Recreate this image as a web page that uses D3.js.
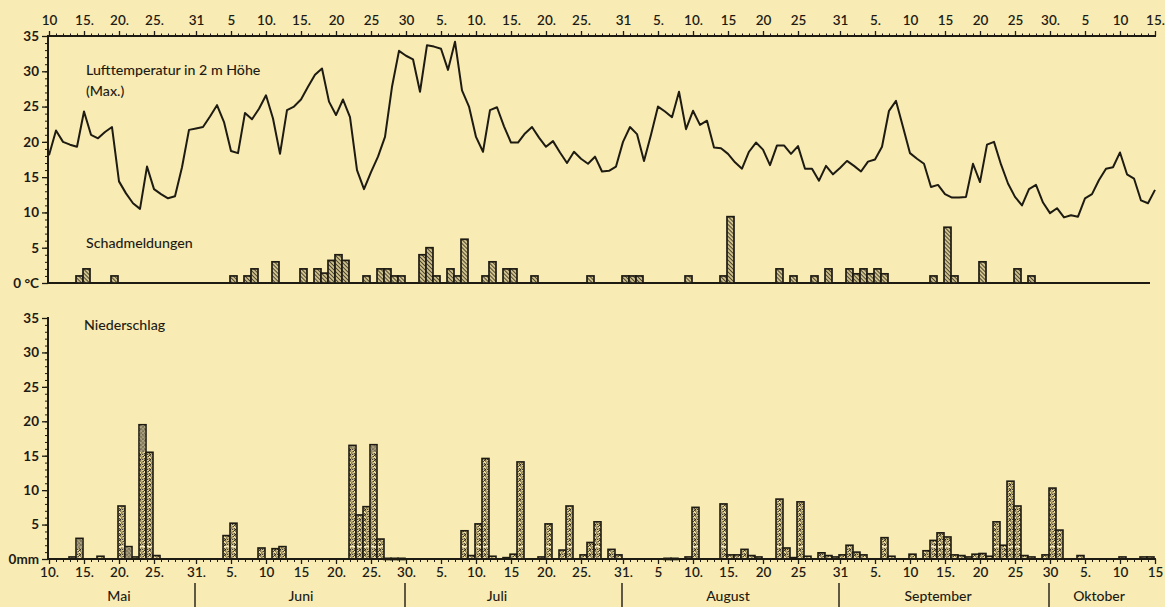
<!DOCTYPE html>
<html><head><meta charset="utf-8">
<script src="https://cdn.jsdelivr.net/npm/d3@7"></script>
<style>
html,body{margin:0;padding:0;background:#f8ebb3;}
svg{display:block;}
text{font-family:Lato,"Noto Sans",sans-serif;fill:#1e1b13;}
</style></head><body>
<svg id="chart" width="1165" height="607"></svg>
<script>
// ---------- data ----------
const firstDay = "05-10", lastDay = "10-15";
// daily maximum air temperature at 2 m (°C), 10. Mai .. 15. Oktober
const tempMax = [
18.1,21.6,20.0,19.6,19.3,24.3,21.0,20.5,21.4,22.1,
14.4,12.7,11.3,10.5,16.5,13.3,12.6,12.0,12.3,16.4,
21.7,21.9,22.1,23.6,25.2,22.8,18.7,18.4,24.1,23.2,
24.7,26.6,23.3,18.3,24.5,25.0,26.0,27.8,29.5,30.4,
25.7,23.8,26.0,23.5,16.0,13.3,15.7,17.9,20.7,27.8,
32.9,32.2,31.7,27.1,33.7,33.5,33.2,30.2,34.2,27.3,
25.0,20.7,18.6,24.5,24.9,22.2,19.9,19.9,21.2,22.1,
20.6,19.3,20.1,18.5,17.0,18.6,17.6,16.9,17.9,15.8,
15.9,16.5,20.0,22.1,21.1,17.3,21.0,25.0,24.3,23.5,
27.1,21.8,24.4,22.4,23.0,19.2,19.1,18.3,17.1,16.2,
18.6,19.9,18.9,16.7,19.5,19.5,18.3,19.4,16.2,16.2,
14.5,16.6,15.4,16.3,17.3,16.6,15.8,17.2,17.5,19.3,
24.4,25.8,22.1,18.4,17.6,16.9,13.6,13.9,12.6,12.1,
12.1,12.2,16.9,14.3,19.6,20.0,16.8,14.1,12.2,11.0,
13.3,13.9,11.4,9.9,10.6,9.3,9.6,9.4,12.0,12.6,
14.6,16.2,16.4,18.5,15.4,14.8,11.7,11.3,13.2
];
// daily precipitation (mm)
const precip = [
0,0,0,0.3,3.0,0,0,0.4,0,0,
7.7,1.8,0.3,19.5,15.5,0.5,0,0,0,0,
0,0,0,0,0,3.4,5.2,0,0,0,
1.6,0,1.5,1.8,0,0,0,0,0,0,
0,0,0,16.5,6.4,7.6,16.6,2.9,0.1,0.1,
0.1,0,0,0,0,0,0,0,0,4.1,
0.5,5.1,14.6,0.4,0,0.2,0.7,14.1,0,0,
0.3,5.1,0,1.3,7.7,0,0.6,2.4,5.4,0,
1.4,0.6,0,0,0,0,0,0,0.1,0.1,
0,0.3,7.5,0,0,0,8.0,0.6,0.6,1.4,
0.5,0.3,0,0,8.7,1.6,0.2,8.3,0.4,0,
0.9,0.5,0.3,0.6,2.0,1.0,0.6,0,0,3.1,
0.4,0,0,0.7,0,1.2,2.7,3.8,3.2,0.6,
0.5,0.3,0.7,0.8,0.4,5.4,2.0,11.3,7.7,0.5,
0.3,0,0.6,10.3,4.2,0,0,0.5,0,0,
0,0,0,0.3,0,0,0.3,0.3,0
];
// grey-toned upper part of some precipitation bars (from value up to bar top)
const precipGreyDates = ["05-14","05-21","05-23","06-22","06-25"];
const precipGreyFrom  = [1.5, 0, 15.5, 16.0, 15.5];
const precipBandLevel = 1.8;
// damage reports (Schadmeldungen)
const schadDates = ["05-14","05-15","05-19","06-05","06-07","06-08","06-11","06-15","06-17","06-18","06-19","06-20","06-21","06-24","06-26","06-27","06-28","06-29","07-02","07-03","07-04","07-06","07-07","07-08","07-11","07-12","07-14","07-15","07-18","07-26","07-31","08-01","08-02","08-09","08-14","08-15","08-22","08-24","08-27","08-29","09-01","09-02","09-03","09-04","09-05","09-06","09-13","09-15","09-16","09-20","09-25","09-27"];
const schadValues = [1,2,1,1,1,2,3,2,2,1.4,3.2,4,3.2,1,2,2,1,1,4,5,1,2,1,6.2,1,3,2,2,1,1,1,1,1,1,1,9.4,2,1,1,2,2,1.3,2,1.3,2,1.3,1,7.9,1,3,2,1];
// axis labels
const topTickDates = ["05-10","05-15","05-20","05-25","05-31","06-05","06-10","06-15","06-20","06-25","06-30","07-05","07-10","07-15","07-20","07-25","07-31","08-05","08-10","08-15","08-20","08-25","08-31","09-05","09-10","09-15","09-20","09-25","09-30","10-05","10-10","10-15"];
const topTickLabels = ["10","15.","20.","25.","31","5","10.","15.","20","25","30","5.","10.","15.","20.","25.","31","5.","10.","15","20","25","31","5.","10","15","20","25","30.","5","10","15."];
const bottomTickLabels = ["10.","15.","20.","25.","31.","5.","10","15","20.","25.","30.","5.","10.","15","20.","25.","31.","5","10.","15.","20","25","31","5.","10","15.","20","25","30","5.","10","15"];
const monthNames = ["Mai","Juni","Juli","August","September","Oktober"];
const monthLabelDates = ["05-20","06-15","07-13","08-15","09-14","10-07"];
const monthEndDates = ["05-31","06-30","07-31","08-31","09-30"];
const tempTicks = [0,5,10,15,20,25,30,35];
const precipTicks = [0,5,10,15,20,25,30,35];

// ---------- drawing ----------
const P = s => d3.utcParse("%Y-%m-%d")("1951-" + s);
const days = d3.utcDay.range(P(firstDay), d3.utcDay.offset(P(lastDay), 1));
const ink = "#1e1b13";
const svg = d3.select("#chart");

const x = d3.scaleUtc().domain([P(firstDay), P(lastDay)]).range([49, 1155]);
const yT = d3.scaleLinear().domain([0, 35]).range([283, 36]);
const yP = d3.scaleLinear().domain([0, 35]).range([559, 318]);
const dayW = x(days[1]) - x(days[0]);
const bx = d => x(d) - 1;

// patterns
const defs = svg.append("defs");
const hatch = defs.append("pattern").attr("id","hatch").attr("patternUnits","userSpaceOnUse")
  .attr("width",2.8).attr("height",2.8).attr("patternTransform","rotate(-45)");
hatch.append("rect").attr("width",2.8).attr("height",2.8).attr("fill","#cfc18c");
hatch.append("line").attr("x1",0).attr("y1",0).attr("x2",0).attr("y2",2.8).attr("stroke","#2a2519").attr("stroke-width",1.5);

const dots = defs.append("pattern").attr("id","dots").attr("patternUnits","userSpaceOnUse")
  .attr("width",5).attr("height",5);
dots.append("rect").attr("width",5).attr("height",5).attr("fill","#efdd9c");
[[0.8,0.9],[3.2,1.4],[1.9,3.0],[4.3,3.8],[0.5,4.4],[2.6,4.7],[4.6,0.3]].forEach(p =>
  dots.append("circle").attr("cx",p[0]).attr("cy",p[1]).attr("r",0.75).attr("fill","#2a2519"));

const greyDots = defs.append("pattern").attr("id","greydots").attr("patternUnits","userSpaceOnUse")
  .attr("width",4).attr("height",4);
greyDots.append("rect").attr("width",4).attr("height",4).attr("fill","#a39a7c");
[[1,1],[3,3]].forEach(p => greyDots.append("circle").attr("cx",p[0]).attr("cy",p[1]).attr("r",0.7).attr("fill","#3e392b"));

// ---------- top axis (dates) ----------
const topDates = topTickDates.map(P);
svg.append("g").attr("transform","translate(0,36)")
  .call(d3.axisTop(x).tickValues(days).tickSize(2.5).tickFormat(""))
  .call(g => { g.select(".domain").remove(); g.selectAll("line").attr("stroke",ink).attr("stroke-width",1); });
svg.append("g").attr("transform","translate(0,36)")
  .call(d3.axisTop(x).tickValues(topDates).tickSize(5).tickPadding(6).tickFormat((d,i)=>topTickLabels[i]))
  .call(g => {
    g.select(".domain").remove();
    g.selectAll("line").attr("stroke",ink).attr("stroke-width",1.3);
    g.selectAll("text").attr("font-size",13.5).attr("font-weight",600).attr("fill",ink);
  });
svg.append("line").attr("x1",47).attr("x2",1156).attr("y1",36).attr("y2",36).attr("stroke",ink).attr("stroke-width",2);

// ---------- left axes ----------
function leftAxis(scale, ticks, zeroLabel, y0, y1) {
  const g = svg.append("g").attr("transform","translate(48,0)");
  g.call(d3.axisLeft(scale).tickValues(d3.range(0,36)).tickSize(3).tickFormat(""))
    .call(a => { a.select(".domain").remove(); a.selectAll("line").attr("stroke",ink); });
  const g2 = svg.append("g").attr("transform","translate(48,0)");
  g2.call(d3.axisLeft(scale).tickValues(ticks).tickSize(6).tickPadding(3)
      .tickFormat(d => d === 0 ? zeroLabel : d))
    .call(a => {
      a.select(".domain").remove();
      a.selectAll("line").attr("stroke",ink).attr("stroke-width",1.3);
      a.selectAll("text").attr("font-size",13.5).attr("font-weight",700).attr("fill",ink);
    });
  svg.append("line").attr("x1",48).attr("x2",48).attr("y1",y0).attr("y2",y1).attr("stroke",ink).attr("stroke-width",2);
}
leftAxis(yT, tempTicks, "0 °C", 35, 284);
leftAxis(yP, precipTicks, "0mm", 317, 560);

// baseline of upper panel
svg.append("line").attr("x1",48).attr("x2",1150).attr("y1",yT(0)).attr("y2",yT(0)).attr("stroke",ink).attr("stroke-width",1.8);

// ---------- Schadmeldungen bars ----------
svg.append("g").selectAll("rect").data(schadDates.map((d,i)=>({d:P(d), v:schadValues[i]})))
  .join("rect")
  .attr("x", o => bx(o.d)).attr("width", dayW)
  .attr("y", o => yT(o.v)).attr("height", o => yT(0) - yT(o.v))
  .attr("fill","url(#hatch)").attr("stroke",ink).attr("stroke-width",1.7);

// ---------- temperature line ----------
const line = d3.line().x((v,i) => x(days[i])).y(v => yT(v));
svg.append("path").datum(tempMax).attr("d", line)
  .attr("fill","none").attr("stroke",ink).attr("stroke-width",2).attr("stroke-linejoin","round");

// ---------- precipitation bars ----------
const pData = precip.map((v,i) => ({d:days[i], v})).filter(o => o.v > 0);
svg.append("g").selectAll("rect").data(pData).join("rect")
  .attr("x", o => bx(o.d)).attr("width", dayW)
  .attr("y", o => yP(o.v)).attr("height", o => Math.max(1.2, yP(0) - yP(o.v)))
  .attr("fill","url(#dots)").attr("stroke",ink).attr("stroke-width",1.6);
// pale band line inside taller bars
svg.append("g").selectAll("line").data(pData.filter(o => o.v > precipBandLevel + 0.8)).join("line")
  .attr("x1", o => bx(o.d) + 1).attr("x2", o => bx(o.d) + dayW - 1)
  .attr("y1", yP(precipBandLevel)).attr("y2", yP(precipBandLevel))
  .attr("stroke","#f6ebc2").attr("stroke-width",1.2);
const gData = precipGreyDates.map((s,i) => {
  const d = P(s); const idx = Math.round((d - days[0]) / 864e5);
  return {d, from: precipGreyFrom[i], to: precip[idx]};
});
svg.append("g").selectAll("rect").data(gData).join("rect")
  .attr("x", o => bx(o.d) + 0.8).attr("width", dayW - 1.6)
  .attr("y", o => yP(o.to) + 0.8).attr("height", o => yP(o.from) - yP(o.to) - 1.2)
  .attr("fill","url(#greydots)").attr("opacity",0.85);

// ---------- bottom axis ----------
svg.append("g").attr("transform","translate(0,559)")
  .call(d3.axisBottom(x).tickValues(days).tickSize(3).tickFormat(""))
  .call(g => { g.select(".domain").remove(); g.selectAll("line").attr("stroke",ink).attr("stroke-width",1); });
svg.append("g").attr("transform","translate(0,559)")
  .call(d3.axisBottom(x).tickValues(topDates).tickSize(5).tickPadding(3).tickFormat((d,i)=>bottomTickLabels[i]))
  .call(g => {
    g.select(".domain").remove();
    g.selectAll("line").attr("stroke",ink).attr("stroke-width",1.3);
    g.selectAll("text").attr("font-size",13.5).attr("font-weight",600).attr("fill",ink);
  });
svg.append("line").attr("x1",48).attr("x2",1156).attr("y1",559).attr("y2",559).attr("stroke",ink).attr("stroke-width",2);

// month separators and names
svg.append("g").selectAll("line").data(monthEndDates.map(P)).join("line")
  .attr("x1", d => x(d) - 1).attr("x2", d => x(d) - 1).attr("y1", 583).attr("y2", 607)
  .attr("stroke", ink).attr("stroke-width", 1.4);
svg.append("g").selectAll("text").data(monthNames).join("text")
  .attr("x", (m,i) => x(P(monthLabelDates[i]))).attr("y", 601)
  .attr("text-anchor","middle").attr("font-size",14).attr("font-weight",500).text(m => m);

// panel titles
const titleSize = 14.2;
svg.append("text").attr("x",86).attr("y",75).attr("font-size",titleSize).attr("font-weight",500).text("Lufttemperatur in 2 m Höhe");
svg.append("text").attr("x",86).attr("y",96).attr("font-size",titleSize).attr("font-weight",500).text("(Max.)");
svg.append("text").attr("x",86).attr("y",248).attr("font-size",titleSize).attr("font-weight",500).text("Schadmeldungen");
svg.append("text").attr("x",84).attr("y",330).attr("font-size",titleSize).attr("font-weight",500).text("Niederschlag");
</script>
</body></html>
